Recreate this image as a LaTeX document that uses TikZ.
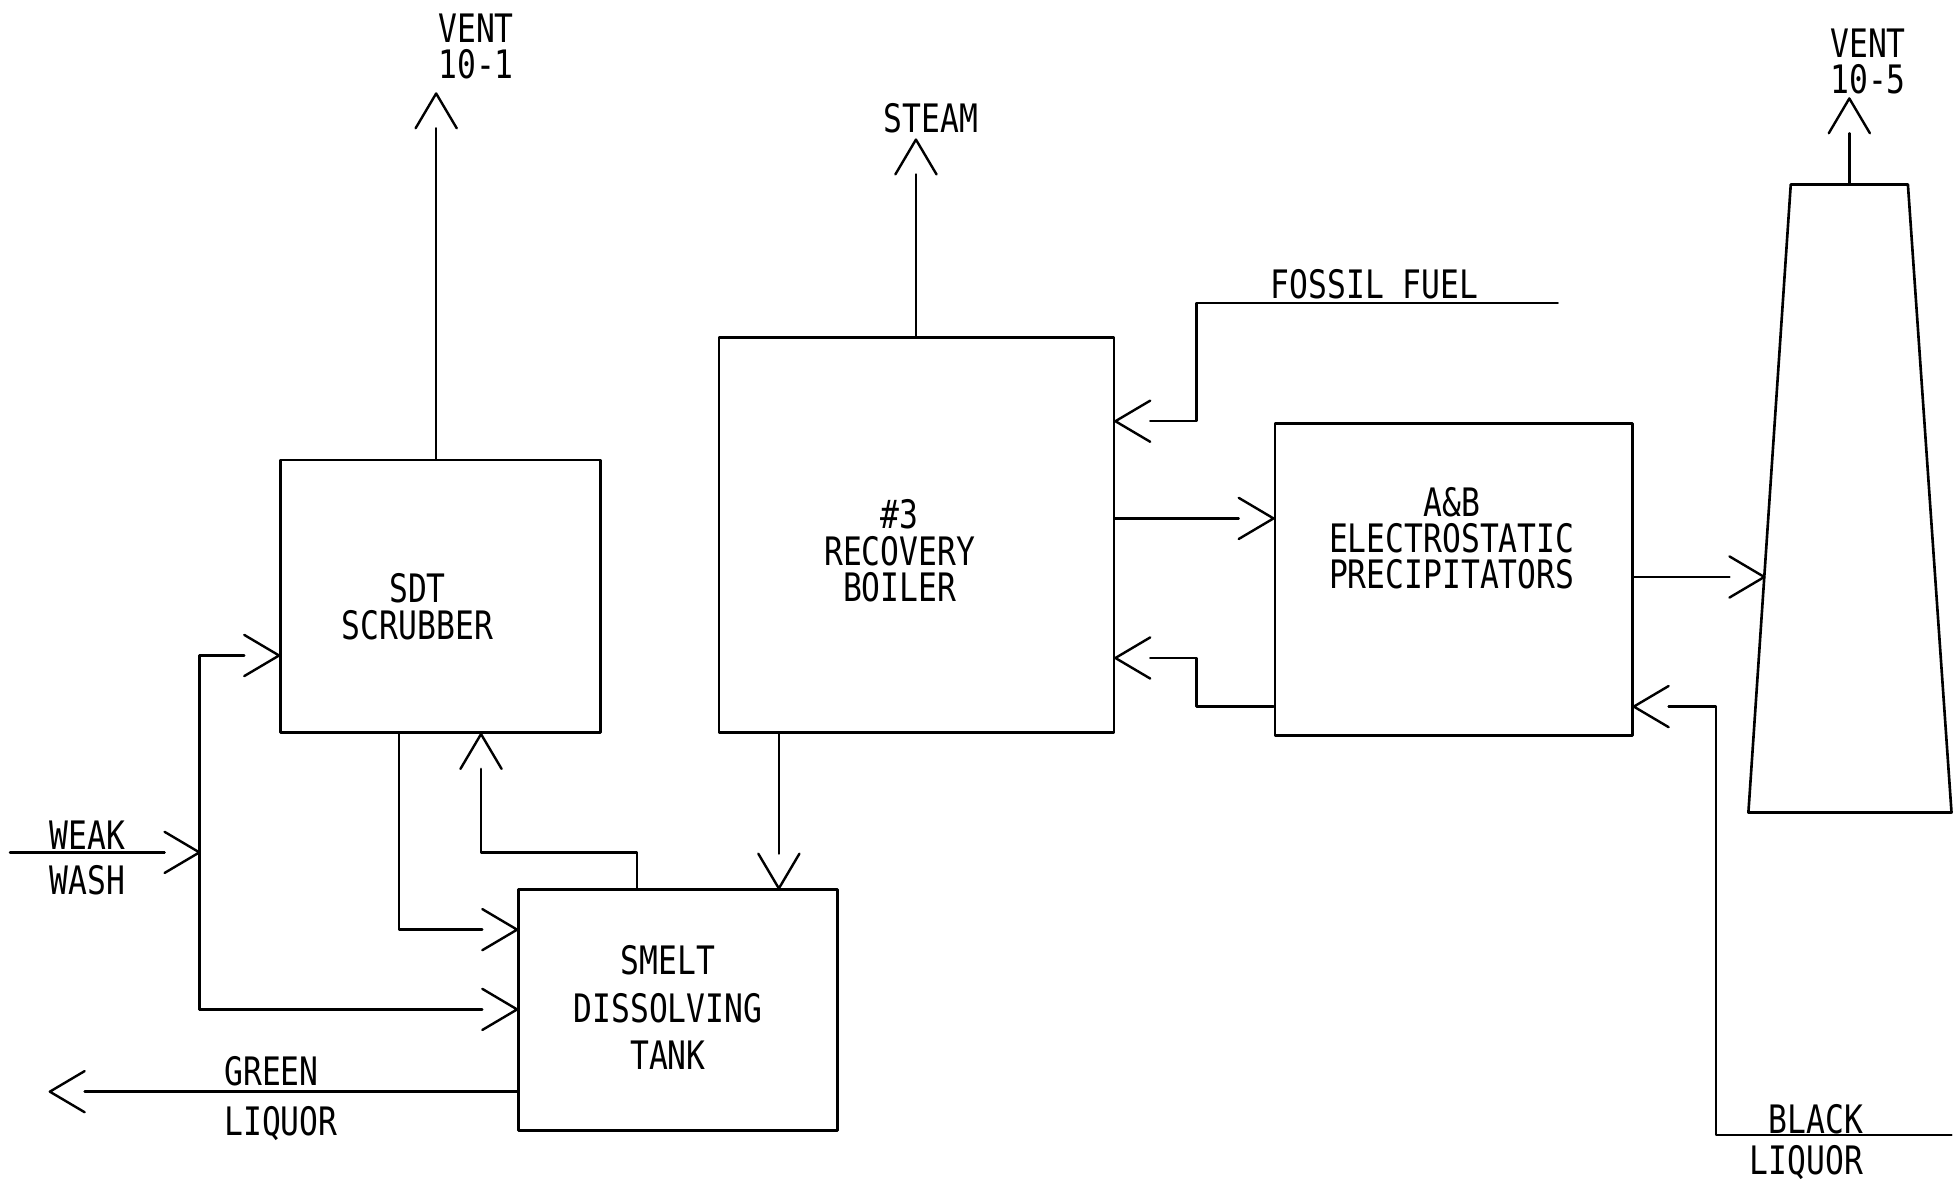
\documentclass[tikz,border=0pt]{standalone}
\usepackage{fontspec}
\newfontfamily\plotfont{DejaVu Sans Mono}[FakeStretch=0.80]
\usetikzlibrary{arrows.meta,calc,fit}

\pgfdeclarearrow{
  name = OpenV,
  parameters = {\the\pgfarrowlength,\the\pgfarrowwidth},
  setup code = {
    \pgfarrowssettipend{\pgfarrowlength}
    \pgfarrowssetlineend{0pt}
    \pgfarrowssetbackend{0pt}
    \pgfarrowssavethe\pgfarrowlength
    \pgfarrowssavethe\pgfarrowwidth
  },
  drawing code = {
    \pgfsetdash{}{0pt}
    \pgfsetroundjoin
    \pgfsetroundcap
    \pgfpathmoveto{\pgfpoint{0pt}{.5\pgfarrowwidth}}
    \pgfpathlineto{\pgfpoint{\pgfarrowlength}{0pt}}
    \pgfpathlineto{\pgfpoint{0pt}{-.5\pgfarrowwidth}}
    \pgfusepathqstroke
  },
  defaults = {length=15.9pt, width=18.8pt}
}

\begin{document}
\begin{tikzpicture}[x=0.02cm,y=-0.02cm,
  line width=1.1pt, line join=round, line cap=round,
  box/.style={draw, line width=1.2pt, inner sep=0pt},
  flow/.style={-{OpenV}},
  lbl/.style={font=\plotfont\fontsize{17.9}{#1}\selectfont, inner sep=0pt, align=center},
  lbl/.default=16.6]
\useasboundingbox (0,0) rectangle (1568,950);

% boxes
\node[box, fit={(225,369) (482,588)}] (scr) {};
\node[box, fit={(577,271) (894,588)}] (boil) {};
\node[box, fit={(1023,340) (1310,590)}] (esp) {};
\node[box, fit={(416,714) (672,907)}] (sdt) {};

% stack
\coordinate (sTL) at (1437,148);
\coordinate (sTR) at (1531,148);
\coordinate (sBR) at (1566,652);
\coordinate (sBL) at (1403,652);
\draw[line width=1.2pt] (sTL) -- (sTR) -- (sBR) -- (sBL) -- cycle;
\coordinate (sTop) at (1484,148);

% box labels
\node[lbl=17.1, anchor=north] (lscr) at (335,459) {SDT\\SCRUBBER};
\node[lbl=16.6, anchor=north] (lboil) at (722,400) {\#3\\RECOVERY\\BOILER};
\node[lbl=16.6, anchor=north] (lesp) at (1165,390) {A\&B\\ELECTROSTATIC\\PRECIPITATORS};
\node[lbl=21.6, anchor=north] (lsdt) at (536,758) {SMELT\\DISSOLVING\\TANK};

% vent 10-1
\node[lbl=16.6, anchor=north] (lvent1) at (382,10) {VENT\\10-1};
\coordinate (v1) at (350,75);
\draw[flow] (scr.north -| v1) -- (v1);

% steam
\node[lbl, anchor=north] (lsteam) at (747,82) {STEAM};
\coordinate (st) at (735,112);
\draw[flow] (boil.north -| st) -- (st);

% vent 10-5
\node[lbl=16.6, anchor=north] (lvent5) at (1499,22) {VENT\\10-5};
\coordinate (v5) at (1484,79);
\draw[flow] (sTop) -- (v5);

% fossil fuel
\node[lbl, anchor=north] (lfossil) at (1103,215) {FOSSIL FUEL};
\coordinate (ff) at (1250,243);
\coordinate (ffb) at (960,243);
\coordinate (fin) at (960,338);
\draw[flow] (ff) -- (ffb) -- (fin) -- (fin -| boil.east);

% boiler -> ESP
\coordinate (y416) at (960,416);
\draw[flow] (boil.east |- y416) -- (esp.west |- y416);

% ESP -> boiler
\coordinate (eb1) at (960,567);
\coordinate (eb2) at (960,528);
\draw[flow] (esp.west |- eb1) -- (eb1) -- (eb2) -- (eb2 -| boil.east);

% ESP -> stack
\coordinate (stin) at ($(sTL)!0.625!(sBL)$);
\draw[flow] (esp.east |- stin) -- (stin);

% black liquor
\node[lbl=18.8, align=right, anchor=north east] (lblack) at (1496,885) {BLACK\\LIQUOR};
\coordinate (bl0) at (1566,911);
\coordinate (bl1) at (1377,911);
\coordinate (bl2) at (1377,567);
\draw[flow] (bl0) -- (bl1) -- (bl2) -- (bl2 -| esp.east);

% weak wash
\node[lbl=20.5, anchor=north] (lweak) at (70,658) {WEAK\\WASH};
\coordinate (ww0) at (8,684);
\coordinate (wwj) at (160,684);
\coordinate (wwt) at (160,526);
\coordinate (wwb) at (160,810);
\draw[flow] (ww0) -- (wwj);
\draw (wwt) -- (wwb);
\draw[flow] (wwt) -- (wwt -| scr.west);
\draw[flow] (wwb) -- (wwb -| sdt.west);

% scrubber -> smelt tank
\coordinate (sd1) at (320,746);
\draw[flow] (scr.south -| sd1) -- (sd1) -- (sd1 -| sdt.west);

% smelt tank -> scrubber
\coordinate (ts1) at (511,684);
\coordinate (ts2) at (386,684);
\draw[flow] (sdt.north -| ts1) -- (ts1) -- (ts2) -- (ts2 |- scr.south);

% boiler -> smelt tank
\coordinate (bsx) at (625,650);
\draw[flow] (boil.south -| bsx) -- (sdt.north -| bsx);

% green liquor
\node[lbl=22.8, align=left, anchor=north west] (lgreen) at (179,847) {GREEN\\LIQUOR};
\coordinate (gl) at (40,876);
\draw[flow] (sdt.west |- gl) -- (gl);
\end{tikzpicture}
\end{document}
